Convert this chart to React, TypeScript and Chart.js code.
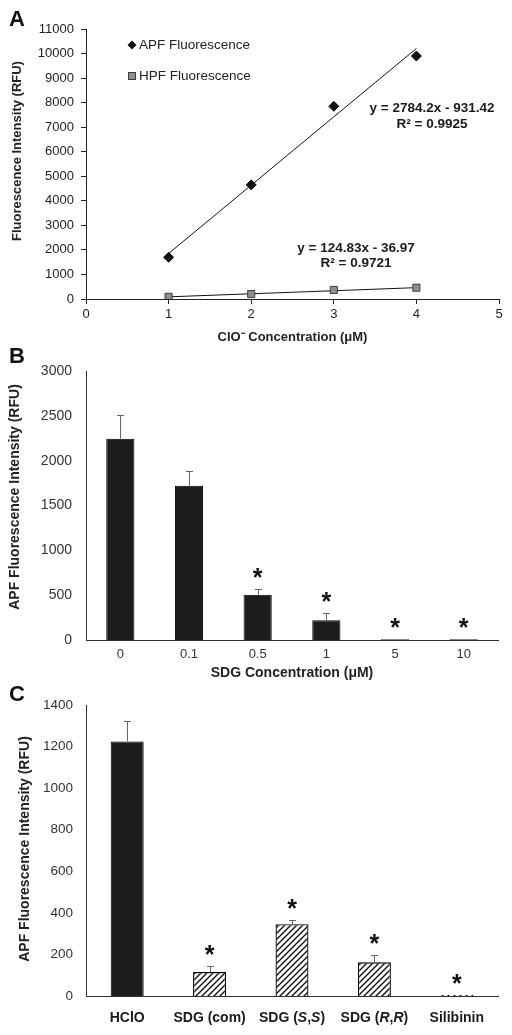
import React, { useEffect, useRef } from "react";
import { Chart, registerables } from "chart.js";
Chart.register(...registerables);

const FONT = "'Liberation Sans', Arial, Helvetica, sans-serif";

// ---------- Panel A data ----------
const cloConc = [1, 2, 3, 4];
const apfRFU = [1700, 4650, 7850, 9900];
const hpfRFU = [90, 200, 370, 460];
const apfFitCoef = [2784.2, -931.42];
const hpfFitCoef = [124.83, -36.97];
const apfEqText = ["y = 2784.2x - 931.42", "R² = 0.9925"];
const hpfEqText = ["y = 124.83x - 36.97", "R² = 0.9721"];
const seriesNamesA = ["APF Fluorescence", "HPF Fluorescence"];

// ---------- Panel B data ----------
const sdgLabels = ["0", "0.1", "0.5", "1", "5", "10"];
const sdgValues = [2245, 1720, 505, 220, 8, 7];
const sdgErrors = [265, 165, 60, 78, 0, 0];
const sdgStars = [false, false, true, true, true, true];

// ---------- Panel C data ----------
const cmpLabels = ["HClO", "SDG (com)", "SDG (S,S)", "SDG (R,R)", "Silibinin"];
const cmpLabelParts: [string, boolean][][] = [
  [["HClO", false]],
  [["SDG (com)", false]],
  [["SDG (", false], ["S", true], [",", false], ["S", true], [")", false]],
  [["SDG (", false], ["R", true], [",", false], ["R", true], [")", false]],
  [["Silibinin", false]],
];
const cmpValues = [1225, 115, 345, 162, 5];
const cmpErrors = [100, 30, 20, 33, 0];
const cmpStars = [false, true, true, true, true];
const cmpHatched = [false, true, true, true, true];

const AXIS = "#222";

function fitEnds(coef: number[]) {
  const x0 = cloConc[0];
  const x1 = cloConc[cloConc.length - 1];
  return [
    { x: x0, y: coef[0] * x0 + coef[1] },
    { x: x1, y: coef[0] * x1 + coef[1] },
  ];
}

function drawLetter(ctx: CanvasRenderingContext2D, letter: string, y: number) {
  ctx.save();
  ctx.fillStyle = "#111";
  ctx.font = `bold 22px ${FONT}`;
  ctx.textAlign = "left";
  ctx.textBaseline = "alphabetic";
  ctx.fillText(letter, 9, y);
  ctx.restore();
}

function drawYTitle(ctx: CanvasRenderingContext2D, text: string, x: number, y: number, size: number) {
  ctx.save();
  ctx.translate(x, y);
  ctx.rotate(-Math.PI / 2);
  ctx.fillStyle = AXIS;
  ctx.font = `bold ${size}px ${FONT}`;
  ctx.textAlign = "center";
  ctx.textBaseline = "middle";
  ctx.fillText(text, 0, 0);
  ctx.restore();
}

function drawStar(ctx: CanvasRenderingContext2D, x: number, cy: number) {
  ctx.save();
  ctx.font = `bold 25px ${FONT}`;
  ctx.fillStyle = "#111";
  ctx.textAlign = "center";
  ctx.textBaseline = "alphabetic";
  const m = ctx.measureText("*");
  const asc = m.actualBoundingBoxAscent;
  const desc = m.actualBoundingBoxDescent;
  ctx.fillText("*", x, cy + (asc - desc) / 2);
  ctx.restore();
}

function drawErrorsAndStars(chart: any, errors: number[], stars: boolean[]) {
  const ctx = chart.ctx as CanvasRenderingContext2D;
  const meta = chart.getDatasetMeta(0);
  const ys = chart.scales.y;
  const values = chart.data.datasets[0].data as number[];
  ctx.save();
  meta.data.forEach((bar: any, i: number) => {
    const v = values[i];
    const e = errors[i];
    const top = ys.getPixelForValue(v + e);
    if (e > 0) {
      ctx.strokeStyle = "#666";
      ctx.lineWidth = 1;
      ctx.beginPath();
      ctx.moveTo(Math.round(bar.x) + 0.5, ys.getPixelForValue(v));
      ctx.lineTo(Math.round(bar.x) + 0.5, Math.round(top) + 0.5);
      ctx.moveTo(Math.round(bar.x) - 3, Math.round(top) + 0.5);
      ctx.lineTo(Math.round(bar.x) + 4, Math.round(top) + 0.5);
      ctx.stroke();
    }
    if (stars[i]) drawStar(ctx, bar.x, top - 16);
  });
  ctx.restore();
}

const extrasA = {
  id: "extrasA",
  afterDraw(chart: any) {
    const ctx = chart.ctx as CanvasRenderingContext2D;
    drawLetter(ctx, "A", 26);
    drawYTitle(ctx, "Fluorescence Intensity (RFU)", 17, 151, 13);
    ctx.save();
    // legend
    ctx.fillStyle = "#111";
    ctx.beginPath();
    ctx.moveTo(132, 40.5);
    ctx.lineTo(136.5, 45);
    ctx.lineTo(132, 49.5);
    ctx.lineTo(127.5, 45);
    ctx.closePath();
    ctx.fill();
    ctx.fillStyle = "#8e8e8e";
    ctx.fillRect(128, 72, 8, 8);
    ctx.strokeStyle = "#3c3c3c";
    ctx.lineWidth = 1;
    ctx.strokeRect(128.5, 72.5, 7, 7);
    ctx.fillStyle = "#222";
    ctx.font = `13.5px ${FONT}`;
    ctx.textAlign = "left";
    ctx.textBaseline = "middle";
    ctx.fillText(seriesNamesA[0], 139, 45);
    ctx.fillText(seriesNamesA[1], 139, 76);
    // equations
    ctx.font = `bold 13.5px ${FONT}`;
    ctx.textAlign = "center";
    ctx.fillStyle = "#1a1a1a";
    ctx.fillText(apfEqText[0], 432, 108);
    ctx.fillText(apfEqText[1], 432, 124);
    ctx.fillText(hpfEqText[0], 356, 248);
    ctx.fillText(hpfEqText[1], 356, 263);
    ctx.restore();
  },
};

const extrasB = {
  id: "extrasB",
  afterDraw(chart: any) {
    drawLetter(chart.ctx, "B", 18);
    drawYTitle(chart.ctx, "APF Fluorescence Intensity (RFU)", 15, 152, 14);
    drawErrorsAndStars(chart, sdgErrors, sdgStars);
  },
};

const extrasC = {
  id: "extrasC",
  afterDraw(chart: any) {
    const ctx = chart.ctx as CanvasRenderingContext2D;
    drawLetter(ctx, "C", 19);
    drawYTitle(ctx, "APF Fluorescence Intensity (RFU)", 25, 167, 14);
    drawErrorsAndStars(chart, cmpErrors, cmpStars);
    const xs = chart.scales.x;
    ctx.save();
    ctx.fillStyle = "#1a1a1a";
    ctx.textBaseline = "middle";
    ctx.textAlign = "left";
    cmpLabelParts.forEach((parts, i) => {
      const fonts = parts.map(([, it]) => `${it ? "italic " : ""}bold 14px ${FONT}`);
      let total = 0;
      const widths = parts.map(([t], k) => {
        ctx.font = fonts[k];
        const w = ctx.measureText(t).width;
        total += w;
        return w;
      });
      let x = xs.getPixelForValue(i) - total / 2;
      parts.forEach(([t], k) => {
        ctx.font = fonts[k];
        ctx.fillText(t, x, 336);
        x += widths[k];
      });
    });
    ctx.restore();
  },
};

function makeHatch(target: HTMLCanvasElement) {
  const c = document.createElement("canvas");
  c.width = 6;
  c.height = 6;
  const g = c.getContext("2d")!;
  g.fillStyle = "#fff";
  g.fillRect(0, 0, 6, 6);
  g.strokeStyle = "#111";
  g.lineWidth = 1.4;
  g.beginPath();
  g.moveTo(0, 6);
  g.lineTo(6, 0);
  g.moveTo(-1, 1);
  g.lineTo(1, -1);
  g.moveTo(5, 7);
  g.lineTo(7, 5);
  g.stroke();
  return target.getContext("2d")!.createPattern(c, "repeat")!;
}

const plainNum = (v: any) => String(v);
const tickFont = (size: number) => ({ family: FONT, size });
const titleFont = (size: number) => ({ family: FONT, size, weight: "bold" as const });

export default function App() {
  const refA = useRef<HTMLCanvasElement>(null);
  const refB = useRef<HTMLCanvasElement>(null);
  const refC = useRef<HTMLCanvasElement>(null);

  useEffect(() => {
    const chartA = new Chart(refA.current!, {
      type: "scatter",
      data: {
        datasets: [
          {
            label: seriesNamesA[0],
            data: cloConc.map((x, i) => ({ x, y: apfRFU[i] })),
            pointStyle: "rectRot",
            pointRadius: 5,
            backgroundColor: "#111",
            borderColor: "#111",
            borderWidth: 1,
            showLine: false,
          },
          {
            label: seriesNamesA[1],
            data: cloConc.map((x, i) => ({ x, y: hpfRFU[i] })),
            pointStyle: "rect",
            pointRadius: 5,
            backgroundColor: "#8e8e8e",
            borderColor: "#3c3c3c",
            borderWidth: 1,
            showLine: false,
          },
          {
            label: "APF trend",
            data: fitEnds(apfFitCoef),
            showLine: true,
            pointRadius: 0,
            borderColor: "#111",
            borderWidth: 1,
          },
          {
            label: "HPF trend",
            data: fitEnds(hpfFitCoef),
            showLine: true,
            pointRadius: 0,
            borderColor: "#111",
            borderWidth: 1,
          },
        ],
      },
      options: {
        responsive: true,
        maintainAspectRatio: false,
        animation: false,
        layout: { padding: { left: 0, right: 13, top: 29, bottom: 0 } },
        plugins: { legend: { display: false }, tooltip: { enabled: false } },
        scales: {
          x: {
            type: "linear",
            min: 0,
            max: 5,
            afterFit: (s: any) => {
              s.height = 46;
            },
            ticks: { stepSize: 1, font: tickFont(13), color: AXIS, padding: 3, callback: plainNum },
            grid: { display: true, drawOnChartArea: false, drawTicks: true, tickLength: 5, color: AXIS },
            border: { display: true, color: AXIS, width: 1 },
            title: {
              display: true,
              text: "ClO⁻ Concentration (μM)",
              font: titleFont(13),
              color: AXIS,
              padding: { top: 0, bottom: 0 },
            },
          },
          y: {
            min: 0,
            max: 11000,
            afterFit: (s: any) => {
              s.width = 86;
            },
            ticks: { stepSize: 1000, font: tickFont(13), color: AXIS, padding: 7, callback: plainNum },
            grid: { display: true, drawOnChartArea: false, drawTicks: true, tickLength: 5, color: AXIS },
            border: { display: true, color: AXIS, width: 1 },
          },
        },
      },
      plugins: [extrasA],
    } as any);

    const chartB = new Chart(refB.current!, {
      type: "bar",
      data: {
        labels: sdgLabels,
        datasets: [
          {
            data: sdgValues,
            backgroundColor: "#1c1c1c",
            borderColor: "#000",
            borderWidth: 1,
            categoryPercentage: 1,
            barPercentage: 0.41,
          },
        ],
      },
      options: {
        responsive: true,
        maintainAspectRatio: false,
        animation: false,
        layout: { padding: { left: 0, right: 14, top: 26, bottom: 0 } },
        plugins: { legend: { display: false }, tooltip: { enabled: false } },
        scales: {
          x: {
            afterFit: (s: any) => {
              s.height = 42;
            },
            ticks: { font: tickFont(13), color: "#333", padding: 7 },
            grid: { display: false, drawTicks: false },
            border: { display: true, color: "#333", width: 1 },
            title: {
              display: true,
              text: "SDG Concentration (μM)",
              font: titleFont(14),
              color: AXIS,
              padding: { top: 0, bottom: 0 },
            },
          },
          y: {
            min: 0,
            max: 3000,
            afterFit: (s: any) => {
              s.width = 86;
            },
            ticks: { stepSize: 500, font: tickFont(14), color: "#333", padding: 14, callback: plainNum },
            grid: { display: false, drawTicks: false },
            border: { display: true, color: "#333", width: 1 },
          },
        },
      },
      plugins: [extrasB],
    } as any);

    const hatch = makeHatch(refC.current!);
    const chartC = new Chart(refC.current!, {
      type: "bar",
      data: {
        labels: cmpLabels,
        datasets: [
          {
            data: cmpValues,
            backgroundColor: cmpHatched.map((h) => (h ? hatch : "#1c1c1c")),
            borderColor: "#000",
            borderWidth: cmpValues.map((v, i) => (i === cmpValues.length - 1 ? 0 : cmpHatched[i] ? 1.3 : 1)),
            categoryPercentage: 1,
            barPercentage: 0.4,
          },
        ],
      },
      options: {
        responsive: true,
        maintainAspectRatio: false,
        animation: false,
        layout: { padding: { left: 0, right: 14, top: 23, bottom: 0 } },
        plugins: { legend: { display: false }, tooltip: { enabled: false } },
        scales: {
          x: {
            afterFit: (s: any) => {
              s.height = 39;
            },
            ticks: { display: false },
            grid: { display: false, drawTicks: false },
            border: { display: true, color: "#333", width: 1 },
          },
          y: {
            min: 0,
            max: 1400,
            afterFit: (s: any) => {
              s.width = 86;
            },
            ticks: { stepSize: 200, font: tickFont(13.5), color: "#333", padding: 13, callback: plainNum },
            grid: { display: false, drawTicks: false },
            border: { display: true, color: "#333", width: 1 },
          },
        },
      },
      plugins: [extrasC],
    } as any);

    return () => {
      chartA.destroy();
      chartB.destroy();
      chartC.destroy();
    };
  }, []);

  return (
    <div style={{ position: "absolute", left: 0, top: 0, width: 512, height: 1035, background: "#fff" }}>
      <div style={{ position: "absolute", left: 0, top: 0, width: 512, height: 345 }}>
        <canvas ref={refA} />
      </div>
      <div style={{ position: "absolute", left: 0, top: 345, width: 512, height: 337 }}>
        <canvas ref={refB} />
      </div>
      <div style={{ position: "absolute", left: 0, top: 682, width: 512, height: 353 }}>
        <canvas ref={refC} />
      </div>
    </div>
  );
}
